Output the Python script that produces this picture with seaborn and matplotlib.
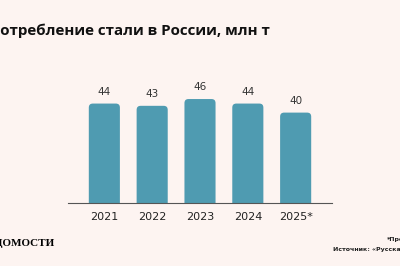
import matplotlib
matplotlib.use("Agg")
import matplotlib.pyplot as plt
from matplotlib.patches import FancyBboxPatch
import seaborn as sns
import pandas as pd

years = ["2021", "2022", "2023", "2024", "2025*"]
values = [44, 43, 46, 44, 40]
labels = ["44", "43", "46", "44", "40"]

title = "Потребление стали в России, млн т"
logo = "ВЕДОМОСТИ"
note = "*Прогноз"
source = "Источник: «Русская сталь»"

BG = "#fdf4f1"
BAR = "#4f9bb1"

sns.set_theme(style="white")
plt.rcParams["font.family"] = ["DejaVu Sans"]

W, H = 400, 266
fig = plt.figure(figsize=(4.0, 2.66), dpi=100, facecolor=BG)
ax = fig.add_axes([68 / W, 1 - 203 / H, (332 - 68) / W, (203 - 40) / H])
ax.set_facecolor(BG)

df = pd.DataFrame({"year": years, "value": values})
sns.barplot(data=df, x="year", y="value", color=BAR, width=0.65, ax=ax,
            saturation=1, edgecolor="none")

ax.set_xlim(-0.76, 4.76)
ax.set_ylim(0, 163 / 2.26)

# rounded bar tops
px_x = (4.76 + 0.76) / (332 - 68)
px_y = (163 / 2.26) / 163
r = 4 * px_x
for p in list(ax.patches):
    x, y, w, h = p.get_x(), p.get_y(), p.get_width(), p.get_height()
    p.remove()
    fb = FancyBboxPatch((x, y - 10), w, h + 10,
                        boxstyle=f"round,pad=0,rounding_size={r}",
                        mutation_aspect=px_y / px_x,
                        facecolor=BAR, edgecolor="none", clip_on=True)
    ax.add_patch(fb)

for i, (v, t) in enumerate(zip(values, labels)):
    ax.annotate(t, (i, v), xytext=(0, 5), textcoords="offset points",
                ha="center", va="bottom", fontsize=7.5, color="#333333")

for s in ["top", "right", "left"]:
    ax.spines[s].set_visible(False)
ax.spines["bottom"].set_color("#555555")
ax.spines["bottom"].set_linewidth(0.8)
ax.set_yticks([])
ax.set_xlabel("")
ax.set_ylabel("")
ax.tick_params(axis="x", length=0, pad=6.5, labelsize=8, labelcolor="#222222")

# Title: scale so that the visible part (after the cropped first letter)
# spans the same width as in the reference.
tfont = dict(fontweight="bold", color="#111111", family=["Open Sans", "DejaVu Sans"])
fs = 10.0
renderer = fig.canvas.get_renderer()
tt = fig.text(0, 0, title, fontsize=fs, **tfont)
tp = fig.text(0, 0, title[0], fontsize=fs, **tfont)
wf = tt.get_window_extent(renderer).width
wp = tp.get_window_extent(renderer).width
tt.remove(); tp.remove()
fs = fs * 272 / (wf - wp)
wp = wp * 272 / (wf - wp)
fig.text(-wp / W, 1 - 31 / H, title, ha="left", va="center", fontsize=fs, **tfont)

fig.text(55 / W, 1 - 244 / H, logo, ha="right", va="center",
         fontsize=8, fontweight="bold", color="#000000",
         family=["Liberation Serif"])
fig.text(387 / W, 1 - 239 / H, note, ha="left", va="center",
         fontsize=4.5, color="#222222", fontweight="bold")
fig.text(333 / W, 1 - 249 / H, source, ha="left", va="center",
         fontsize=4.5, color="#222222", fontweight="bold")

fig.savefig("out.png", dpi=100, facecolor=BG)
